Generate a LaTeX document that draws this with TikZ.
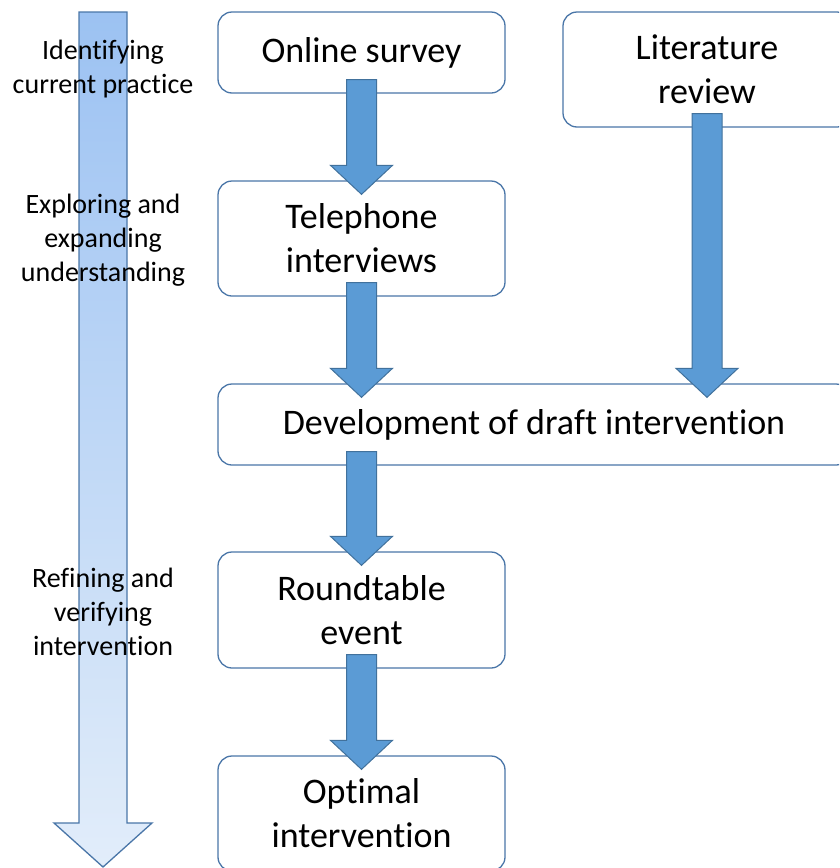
\documentclass[tikz,border=0pt]{standalone}
\usepackage{fontspec}
\setmainfont{Carlito}[Ligatures=NoCommon]
\usetikzlibrary{calc}

\definecolor{arrowblue}{HTML}{5B9BD5}
\definecolor{arrowedge}{HTML}{41719C}
\definecolor{boxedge}{HTML}{4A76A8}
\definecolor{phasetop}{HTML}{9CC2F2}
\definecolor{phasebot}{HTML}{E2EDFA}

\tikzset{
	stagebox/.style={draw=boxedge, line width=1.3pt, rounded corners=14pt, fill=white,
		align=center, inner sep=0pt, font=\fontsize{36}{44}\selectfont},
	phaselabel/.style={align=center, font=\fontsize{28}{34}\selectfont},
	blockarrow/.style={fill=arrowblue, draw=arrowedge, line width=1pt}
}

% block arrow from the bottom of one box into the top of the next
\newcommand{\flowarrow}[2]{
	\draw[blockarrow] ($(#1)+(-15,-14)$) -- ($(#2)+(-15,-15)$) -- ($(#2)+(-31,-15)$)
		-- ($(#2)+(0,14)$) -- ($(#2)+(31,-15)$) -- ($(#2)+(15,-15)$)
		-- ($(#1)+(15,-14)$) -- cycle;
}

\begin{document}
\begin{tikzpicture}[x=1pt,y=-1pt]
	\useasboundingbox (0,0) rectangle (839,868);
	\clip (0,0) rectangle (839,868);

	\draw[draw=boxedge, line width=1.3pt, top color=phasetop, bottom color=phasebot]
		(79,12) -- (127,12) -- (127,823) -- (152,823) -- (103,867) -- (54,823) -- (79,823) -- cycle;

	\node[phaselabel] (identify) at (103,69) {Identifying\\current practice};
	\node[phaselabel] (explore) at (103,240) {Exploring and\\expanding\\understanding};
	\node[phaselabel] (refine) at (103,612) {Refining and\\verifying\\intervention};

	\node[stagebox, minimum width=287pt, minimum height=81pt] (survey) at (361.5,52.5) {Online survey};
	\node[stagebox, minimum width=288pt, minimum height=115pt] (litrev) at (707,69.5) {Literature\\review};
	\node[stagebox, minimum width=287pt, minimum height=115pt] (phone) at (361.5,238.5) {Telephone\\interviews};
	\node[stagebox, minimum width=632pt, minimum height=81pt] (draft) at (534,424.5) {Development of draft intervention};
	\node[stagebox, minimum width=287pt, minimum height=116pt] (roundtable) at (361.5,610) {Roundtable\\event};
	\node[stagebox, minimum width=287pt, minimum height=115pt] (optimal) at (361.5,813.5) {Optimal\\intervention};

	\flowarrow{survey.south}{phone.north}
	\flowarrow{phone.south}{draft.north -| phone.south}
	\flowarrow{litrev.south}{draft.north -| litrev.south}
	\flowarrow{draft.south -| roundtable.north}{roundtable.north}
	\flowarrow{roundtable.south}{optimal.north}
\end{tikzpicture}
\end{document}
